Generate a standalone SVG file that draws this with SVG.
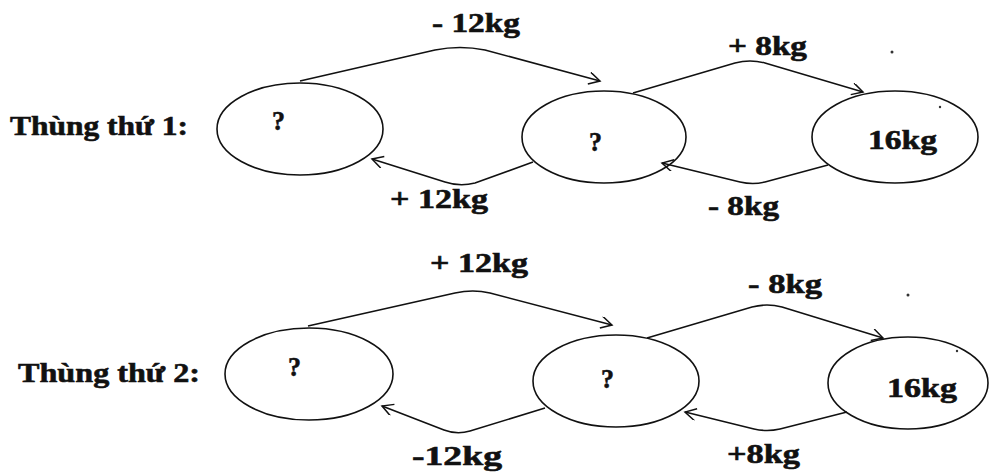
<svg xmlns="http://www.w3.org/2000/svg" width="989" height="475" viewBox="0 0 989 475">
<style>
.node ellipse{fill:none;stroke:#111;stroke-width:1.6}
.lbl{font-family:'Liberation Serif',Tinos,'Times New Roman',serif;font-weight:700;font-size:28px;fill:#111;stroke:#111;stroke-width:0.6}
.conn path{fill:none;stroke:#111;stroke-width:1.6}
.speck{fill:#333}
</style>
<defs>
<marker id="arr" markerWidth="14" markerHeight="14" refX="12" refY="6" orient="auto" markerUnits="userSpaceOnUse">
<path d="M1,0 L12,6 L1,12" fill="none" stroke="#111" stroke-width="1.5"/>
</marker>
</defs>
<rect width="989" height="475" fill="#fff"/>

<text class="lbl" x="10" y="135" textLength="178" lengthAdjust="spacingAndGlyphs">Thùng thứ 1:</text>
<text class="lbl" x="18" y="382" textLength="182" lengthAdjust="spacingAndGlyphs">Thùng thứ 2:</text>

<g id="a1" class="node"><ellipse cx="300" cy="129" rx="83" ry="46"/><text class="lbl" x="272" y="130" textLength="13" lengthAdjust="spacingAndGlyphs">?</text></g>
<g id="b1" class="node"><ellipse cx="604" cy="137" rx="82" ry="46"/><text class="lbl" x="589" y="151" textLength="13" lengthAdjust="spacingAndGlyphs">?</text></g>
<g id="c1" class="node"><ellipse cx="895" cy="137" rx="83" ry="46"/><text class="lbl" x="868" y="149" textLength="69" lengthAdjust="spacingAndGlyphs">16kg</text></g>

<g id="a2" class="node"><ellipse cx="309" cy="374" rx="84" ry="46"/><text class="lbl" x="288" y="376" textLength="13" lengthAdjust="spacingAndGlyphs">?</text></g>
<g id="b2" class="node"><ellipse cx="616" cy="381" rx="83" ry="46"/><text class="lbl" x="601" y="388" textLength="13" lengthAdjust="spacingAndGlyphs">?</text></g>
<g id="c2" class="node"><ellipse cx="908" cy="383" rx="80" ry="46"/><text class="lbl" x="887" y="397" textLength="70" lengthAdjust="spacingAndGlyphs">16kg</text></g>

<g id="connectors" class="conn">
<path d="M300,81 L435,50 Q460,45 485,50 L600,81" marker-end="url(#arr)"/>
<path d="M533,162 L475,183 Q460,187 445,182 L372,159" marker-end="url(#arr)"/>
<path d="M633,93 L735,63 Q750,59 765,63 L863,92" marker-end="url(#arr)"/>
<path d="M828,165 L765,182 Q753,185 740,182 L662,163" marker-end="url(#arr)"/>
<path d="M308,326 L455,293 Q473,289 490,293 L612,325" marker-end="url(#arr)"/>
<path d="M545,408 L470,431 Q457,435 444,430 L382,406" marker-end="url(#arr)"/>
<path d="M647,338 L752,307 Q767,303 782,307 L883,338" marker-end="url(#arr)"/>
<path d="M847,412 L780,429 Q767,432 754,429 L685,412" marker-end="url(#arr)"/>
</g>

<g id="labels">
<text class="lbl" x="432" y="32" textLength="88" lengthAdjust="spacingAndGlyphs">- 12kg</text>
<text class="lbl" x="390" y="208" textLength="98" lengthAdjust="spacingAndGlyphs">+ 12kg</text>
<text class="lbl" x="728" y="55" textLength="79" lengthAdjust="spacingAndGlyphs">+ 8kg</text>
<text class="lbl" x="708" y="215" textLength="71" lengthAdjust="spacingAndGlyphs">- 8kg</text>
<text class="lbl" x="430" y="272" textLength="98" lengthAdjust="spacingAndGlyphs">+ 12kg</text>
<text class="lbl" x="412" y="465" textLength="90" lengthAdjust="spacingAndGlyphs">-12kg</text>
<text class="lbl" x="748" y="293" textLength="74" lengthAdjust="spacingAndGlyphs">- 8kg</text>
<text class="lbl" x="727" y="463" textLength="73" lengthAdjust="spacingAndGlyphs">+8kg</text>
</g>

<circle class="speck" cx="892" cy="52" r="1.5"/>
<circle class="speck" cx="940" cy="107" r="1.2"/>
<circle class="speck" cx="908" cy="295" r="1.5"/>
<circle class="speck" cx="957" cy="351" r="1.2"/>
</svg>
